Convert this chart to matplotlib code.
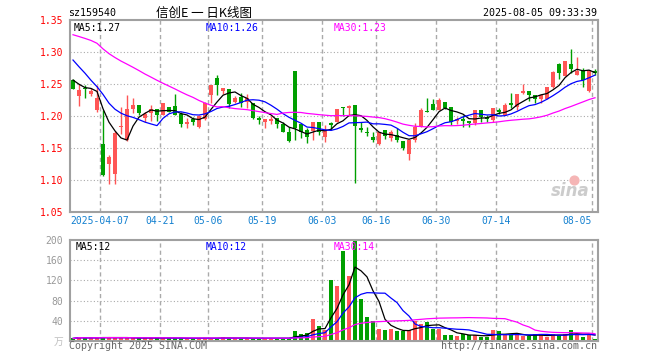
#!/usr/bin/env python
# -*- coding:utf-8 -*-
import numpy as np
import pandas as pd
import matplotlib
matplotlib.use('Agg')
import matplotlib.pyplot as plt

plt.rcParams['font.family'] = ['DejaVu Sans Mono', 'Noto Sans CJK SC']

# daily k-line data, 2025-03-28 .. 2025-08-05
opens = [1.2567, 1.2317, 1.2432, 1.2349, 1.2093, 1.1562, 1.1255, 1.1099, 1.1830, 1.1619,
         1.2109, 1.2172, 1.1963, 1.2041, 1.2109, 1.2015, 1.2145, 1.2156, 1.2031, 1.1880,
         1.1953, 1.1833, 1.1953, 1.2328, 1.2599, 1.2395, 1.2421, 1.2224, 1.2302, 1.2224,
         1.2208, 1.1963, 1.1911, 1.1922, 1.1963, 1.1880, 1.1745, 1.2703, 1.1869, 1.1781,
         1.1765, 1.1901, 1.1677, 1.1885, 1.1911, 1.2135, 1.2119, 1.2172, 1.1817, 1.1745,
         1.1672, 1.1557, 1.1781, 1.1661, 1.1703, 1.1609, 1.1401, 1.1625, 1.1833, 1.2083,
         1.2187, 1.2093, 1.2213, 1.2145, 1.1922, 1.1948, 1.1922, 1.1885, 1.2094, 1.1979,
         1.1938, 1.2094, 1.2016, 1.2208, 1.2146, 1.2354, 1.2391, 1.2328, 1.2260, 1.2260,
         1.2458, 1.2812, 1.2625, 1.2812, 1.2641, 1.2703, 1.2396, 1.2703]
highs = [1.2580, 1.2494, 1.2484, 1.2432, 1.2484, 1.2088, 1.1390, 1.1765, 1.2140, 1.2328,
         1.2276, 1.2172, 1.2068, 1.2172, 1.2109, 1.2208, 1.2145, 1.2343, 1.2068, 1.1963,
         1.1989, 1.2015, 1.2224, 1.2484, 1.2640, 1.2442, 1.2421, 1.2317, 1.2364, 1.2338,
         1.2208, 1.1994, 1.1953, 1.1994, 1.1963, 1.1911, 1.1833, 1.2703, 1.1869, 1.1818,
         1.1901, 1.1901, 1.1859, 1.1911, 1.2109, 1.2145, 1.2172, 1.2172, 1.1901, 1.1833,
         1.1745, 1.1745, 1.1781, 1.1781, 1.1807, 1.1609, 1.1625, 1.1885, 1.2130, 1.2286,
         1.2260, 1.2276, 1.2213, 1.2145, 1.1989, 1.2016, 1.1922, 1.2094, 1.2094, 1.2016,
         1.2120, 1.2120, 1.2198, 1.2365, 1.2344, 1.2495, 1.2391, 1.2328, 1.2344, 1.2448,
         1.2708, 1.2823, 1.2865, 1.3042, 1.2927, 1.2745, 1.2719, 1.2729]
lows = [1.2420, 1.2161, 1.2286, 1.2317, 1.2067, 1.1062, 1.0932, 1.0942, 1.1713, 1.1610,
        1.2041, 1.2015, 1.1911, 1.1922, 1.1922, 1.2015, 1.2068, 1.2015, 1.1833, 1.1807,
        1.1859, 1.1818, 1.1937, 1.2198, 1.2328, 1.2338, 1.2119, 1.2198, 1.2145, 1.2130,
        1.1953, 1.1880, 1.1807, 1.1880, 1.1817, 1.1745, 1.1599, 1.1625, 1.1651, 1.1573,
        1.1625, 1.1703, 1.1599, 1.1781, 1.1901, 1.2005, 1.2005, 1.0948, 1.1745, 1.1693,
        1.1599, 1.1547, 1.1641, 1.1609, 1.1599, 1.1474, 1.1312, 1.1599, 1.1833, 1.2068,
        1.2093, 1.2093, 1.2109, 1.1859, 1.1869, 1.1833, 1.1833, 1.1859, 1.1911, 1.1911,
        1.1911, 1.2031, 1.2016, 1.2120, 1.2094, 1.2344, 1.2240, 1.2198, 1.2198, 1.2260,
        1.2432, 1.2573, 1.2625, 1.2667, 1.2641, 1.2458, 1.2380, 1.2641]
closes = [1.2427, 1.2406, 1.2416, 1.2395, 1.2275, 1.1078, 1.1354, 1.1734, 1.1845, 1.2109,
          1.2172, 1.2052, 1.2031, 1.2109, 1.2015, 1.2208, 1.2068, 1.2015, 1.1880, 1.1911,
          1.1911, 1.2005, 1.2208, 1.2484, 1.2484, 1.2442, 1.2182, 1.2286, 1.2198, 1.2276,
          1.1974, 1.1932, 1.1953, 1.1953, 1.1869, 1.1745, 1.1609, 1.1817, 1.1745, 1.1677,
          1.1901, 1.1745, 1.1781, 1.1859, 1.2109, 1.2130, 1.2156, 1.1849, 1.1781, 1.1740,
          1.1625, 1.1745, 1.1693, 1.1745, 1.1625, 1.1495, 1.1625, 1.1833, 1.2093, 1.2068,
          1.2093, 1.2250, 1.2119, 1.1901, 1.1953, 1.1922, 1.1896, 1.2094, 1.1979, 1.1958,
          1.2120, 1.2057, 1.2172, 1.2172, 1.2344, 1.2391, 1.2328, 1.2260, 1.2328, 1.2448,
          1.2682, 1.2667, 1.2865, 1.2729, 1.2708, 1.2563, 1.2719, 1.2677]
# volume, unit 万
volumes = [5, 8, 6, 6, 7, 7, 8, 6, 6, 7, 5, 5, 6, 6, 7, 6, 5, 5, 6, 5,
           5, 5, 6, 5, 6, 8, 5, 5, 5, 6, 5, 5, 5, 5, 6, 6, 5, 19, 13, 16,
           43, 29, 22, 120, 108, 178, 128, 198, 83, 48, 40, 23, 21, 23, 19, 19, 21, 40, 34, 38,
           24, 24, 12, 12, 9, 14, 12, 11, 7, 8, 21, 19, 12, 12, 12, 10, 10, 13, 13, 8,
           13, 12, 13, 22, 13, 8, 14, 3]
# closes before the visible window (needed for the moving averages)
pre_close = [1.325, 1.33, 1.335, 1.36, 1.37, 1.36, 1.355, 1.35, 1.355, 1.365,
             1.36, 1.365, 1.355, 1.35, 1.36, 1.34, 1.335, 1.33, 1.325, 1.31,
             1.346, 1.342, 1.350, 1.328, 1.228, 1.273, 1.268, 1.246, 1.251]

tick_idx = [5, 15, 23, 32, 42, 51, 61, 71, 87]
tick_labels = ['2025-04-07', '04-21', '05-06', '05-19', '06-03', '06-16', '06-30', '07-14', '08-05']

RED = '#ff5656'
GREEN = '#009f00'
GRID = '#aaaaaa'
W, H = 660, 360

n = len(closes)
xs = np.arange(n)
o = np.array(opens); h = np.array(highs); l = np.array(lows); c = np.array(closes)
up = c >= o
cols = [RED if u else GREEN for u in up]

allc = pd.Series(pre_close + closes)
ma5 = allc.rolling(5).mean().values[-n:]
ma10 = allc.rolling(10).mean().values[-n:]
ma30 = allc.rolling(30).mean().values[-n:]
vs = pd.Series(volumes, dtype=float)
vma5 = vs.rolling(5, min_periods=1).mean().values
vma10 = vs.rolling(10, min_periods=1).mean().values
vma30 = vs.rolling(30, min_periods=1).mean().values

fig = plt.figure(figsize=(6.6, 3.6), dpi=100)
ax = fig.add_axes([70 / W, 1 - 212 / H, 528 / W, 192 / H])
axv = fig.add_axes([70 / W, 1 - 341 / H, 528 / W, 101 / H])

for a in (ax, axv):
    a.set_xlim(-0.5, n - 0.5)
    for s in a.spines.values():
        s.set_color('#a0a0a0')
        s.set_linewidth(1.5)
    for t in tick_idx:
        a.axvline(t - 0.5, color=GRID, lw=1.0, ls=(0, (3, 2.2)), zorder=0)

### candles
ax.vlines(xs, l, h, colors=cols, lw=1, zorder=2)
body = np.maximum(np.abs(c - o), 0.0008)
ax.bar(xs, body, bottom=np.minimum(o, c), width=0.72, color=cols, zorder=3)
ax.plot(xs, ma5, color='black', lw=0.9, zorder=4)
ax.plot(xs, ma10, color='#0000ff', lw=0.9, zorder=4)
ax.plot(xs, ma30, color='#ff00ff', lw=0.9, zorder=4)
ax.set_ylim(1.05, 1.35)
for y in [1.10, 1.15, 1.20, 1.25, 1.30]:
    ax.axhline(y, color=GRID, lw=0.8, ls=(0, (1, 2)), zorder=0)
yt = [1.05, 1.10, 1.15, 1.20, 1.25, 1.30, 1.35]
ax.set_yticks(yt)
ax.set_yticklabels(['%.2f' % v for v in yt])
ax.tick_params(axis='y', length=0, pad=5, labelcolor='red', labelsize=7)
ax.set_xticks([t - 0.5 for t in tick_idx])
ax.set_xticklabels(tick_labels)
ax.tick_params(axis='x', length=0, pad=3, labelcolor='#1380d0', labelsize=7)
ax.get_xticklabels()[-1].set_ha('right')

ax.text(0.006, 0.985, 'MA5:%.2f' % ma5[-1], transform=ax.transAxes, color='black',
        fontsize=7, va='top', ha='left')
ax.text(0.256, 0.985, 'MA10:%.2f' % ma10[-1], transform=ax.transAxes, color='#0000ff',
        fontsize=7, va='top', ha='left')
ax.text(0.5, 0.985, 'MA30:%.2f' % ma30[-1], transform=ax.transAxes, color='#ff00ff',
        fontsize=7, va='top', ha='left')
# sina watermark
ax.text(0.985, 0.06, 'sina', transform=ax.transAxes, color='#cccccc', fontsize=12,
        fontweight='bold', style='italic', family='DejaVu Sans', ha='right', va='bottom')
ax.scatter([0.955], [0.165], s=40, color='#f5b5b5', transform=ax.transAxes, zorder=1)

### volume
axv.bar(xs, volumes, width=0.8, color=cols, zorder=2)
axv.plot(xs, vma5, color='black', lw=0.9, zorder=4)
axv.plot(xs, vma10, color='#0000ff', lw=0.9, zorder=4)
axv.plot(xs, vma30, color='#ff00ff', lw=0.9, zorder=4)
axv.set_ylim(0, 200)
for y in [40, 80, 120, 160]:
    axv.axhline(y, color=GRID, lw=0.8, ls=(0, (1, 2)), zorder=0)
axv.set_yticks([0, 40, 80, 120, 160, 200])
axv.set_yticklabels(['万', '40', '80', '120', '160', '200'])
axv.tick_params(axis='y', length=0, pad=5, labelcolor='#999999', labelsize=7)
axv.get_yticklabels()[0].set_color('#c0c0c0')
axv.get_yticklabels()[0].set_family(['Noto Sans CJK SC'])
axv.set_xticks([])
axv.text(0.01, 0.985, 'MA5:%d' % round(vma5[-1]), transform=axv.transAxes, color='black',
         fontsize=7, va='top', ha='left')
axv.text(0.256, 0.985, 'MA10:%d' % round(vma10[-1]), transform=axv.transAxes, color='#0000ff',
         fontsize=7, va='top', ha='left')
axv.text(0.5, 0.985, 'MA30:%d' % round(vma30[-1]), transform=axv.transAxes, color='#ff00ff',
         fontsize=7, va='top', ha='left', zorder=5)

### header / footer
fig.text(68 / W, 1 - 13 / H, 'sz159540', fontsize=7.2, color='black', va='center', ha='left')
fig.text(204 / W, 1 - 13 / H, '信创E 一 日K线图', fontsize=9, color='black', va='center',
         ha='center', family=['Noto Sans CJK SC', 'DejaVu Sans'])
fig.text(597 / W, 1 - 13 / H, '2025-08-05 09:33:39', fontsize=7.2, color='black',
         va='center', ha='right')
fig.text(69 / W, 1 - 346 / H, 'Copyright 2025 SINA.COM', fontsize=7.2, color='#666666',
         va='center', ha='left')
fig.text(597 / W, 1 - 346 / H, 'http://finance.sina.com.cn', fontsize=7.2, color='#666666',
         va='center', ha='right')

fig.savefig('out.png', dpi=100, facecolor='white')
